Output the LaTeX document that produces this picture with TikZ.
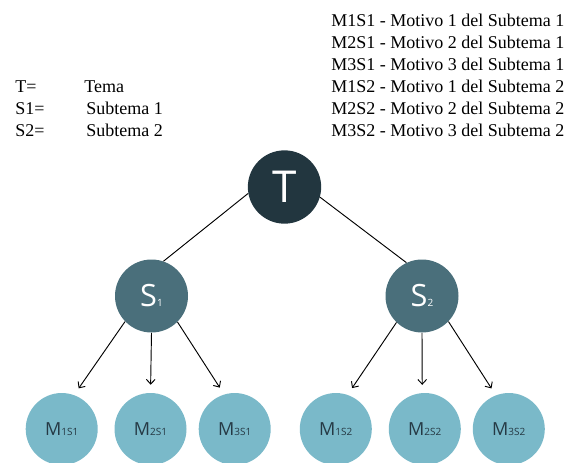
\documentclass[tikz,border=0pt]{standalone}
\usepackage{fontspec}
\usetikzlibrary{arrows.meta}
\setmainfont{Liberation Serif}
\newfontfamily\bubblefont{Open Sans}

\definecolor{temafill}{HTML}{22363F}
\definecolor{subfill}{HTML}{4A6F7B}
\definecolor{motfill}{HTML}{7AB9C9}
\definecolor{mottext}{HTML}{253944}

\newcommand{\subtxt}[2]{{\fontsize{#1}{#1}\selectfont #2}}

\tikzset{
    tema/.style={circle, fill=temafill, minimum size=55pt, inner sep=0pt,
      text=white, font=\bubblefont\fontsize{33}{33}\selectfont},
    subtema/.style={circle, fill=subfill, minimum size=54.75pt, inner sep=0pt,
      text=white, font=\bubblefont\fontsize{23}{23}\selectfont},
    motivo/.style={circle, fill=motfill, minimum size=54pt, inner sep=0pt,
      text=mottext, font=\bubblefont\fontsize{13.5}{13.5}\selectfont},
    legend/.style={anchor=base west, inner sep=0pt,
      font=\fontsize{13.5}{16}\selectfont},
    branch/.style={line width=0.7pt},
    leaf/.style={line width=0.7pt, -{Straight Barb[length=3.5pt,width=6.5pt]},
      shorten >=6pt}
  }

\begin{document}
\begin{tikzpicture}[x=0.75pt, y=-0.75pt]
    \useasboundingbox (0,0) rectangle (571,462);

    \node[tema] (T) at (284.5,187) {T};

    \node[subtema] (S1) at (151.5,296) {S\subtxt{7.5}{1}};
    \node[subtema] (S2) at (422,296) {S\subtxt{7.5}{2}};

    \node[motivo] (M11) at (61.7,429) {M\subtxt{7.5}{1S1}};
    \node[motivo] (M21) at (150.5,429) {M\subtxt{7.5}{2S1}};
    \node[motivo] (M31) at (234.7,429) {M\subtxt{7.5}{3S1}};
    \node[motivo] (M12) at (335.8,429) {M\subtxt{7.5}{1S2}};
    \node[motivo] (M22) at (424.8,429) {M\subtxt{7.5}{2S2}};
    \node[motivo] (M32) at (508.8,429) {M\subtxt{7.5}{3S2}};

    \draw[branch] (T.190) -- (S1.71);
    \draw[branch] (T.344) -- (S2.115);

    \draw[leaf] (S1.224) -- (M11.70);
    \draw[leaf] (S1.270) -- (M21.90);
    \draw[leaf] (S1.315) -- (M31.107);
    \draw[leaf] (S2.226) -- (M12.71);
    \draw[leaf] (S2.270) -- (M22.94);
    \draw[leaf] (S2.316) -- (M32.111);

    % leyenda
    \node[legend] (lT) at (15,92.4) {T=};
    \node[legend] (lS1) at (15,114.5) {S1=};
    \node[legend] (lS2) at (15,136.7) {S2=};
    \node[legend] (dT) at (84,92.4) {Tema};
    \node[legend] (dS1) at (86,114.5) {Subtema 1};
    \node[legend] (dS2) at (86,136.7) {Subtema 2};

    \node[legend] (r1) at (331,26) {M1S1 - Motivo 1 del Subtema 1};
    \node[legend] (r2) at (331,48.1) {M2S1 - Motivo 2 del Subtema 1};
    \node[legend] (r3) at (331,70.2) {M3S1 - Motivo 3 del Subtema 1};
    \node[legend] (r4) at (331,92.4) {M1S2 - Motivo 1 del Subtema 2};
    \node[legend] (r5) at (331,114.5) {M2S2 - Motivo 2 del Subtema 2};
    \node[legend] (r6) at (331,136.7) {M3S2 - Motivo 3 del Subtema 2};

  \end{tikzpicture}
\end{document}
